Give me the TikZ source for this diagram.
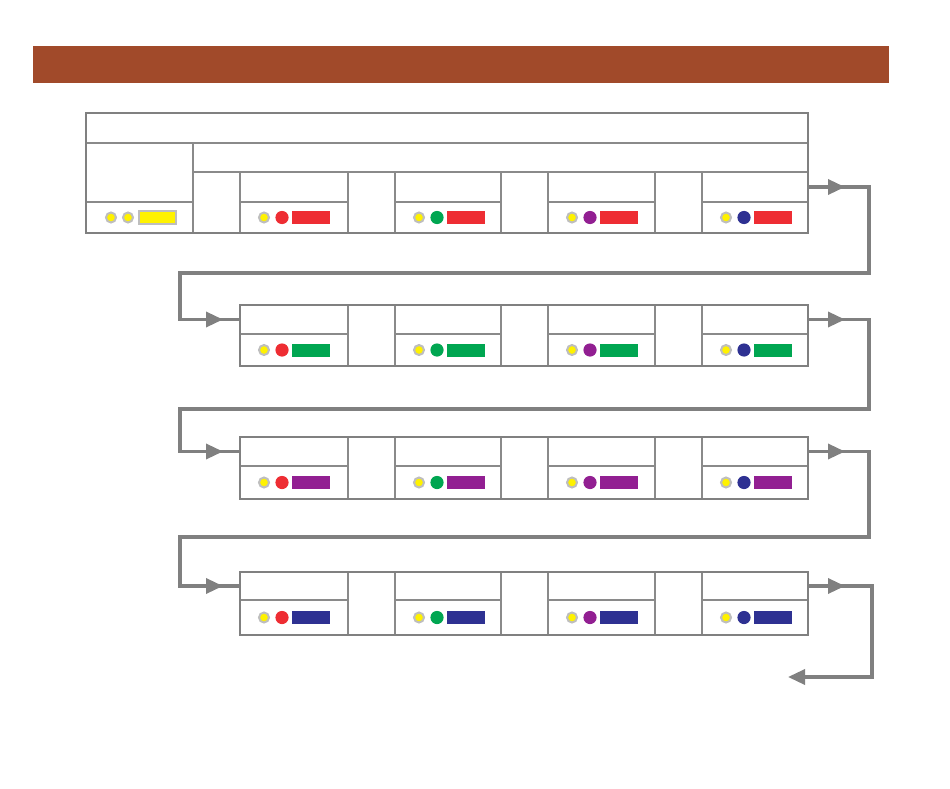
\documentclass[tikz,border=0pt]{standalone}
\usetikzlibrary{arrows.meta}
\definecolor{hdr}{RGB}{161,74,42}
\definecolor{framegray}{RGB}{128,128,128}
\definecolor{gridgray}{RGB}{138,138,138}
\definecolor{dotred}{RGB}{238,45,51}
\definecolor{dotgreen}{RGB}{0,166,81}
\definecolor{dotpurple}{RGB}{146,31,146}
\definecolor{dotnavy}{RGB}{46,49,146}
\definecolor{dotyellow}{RGB}{255,242,0}
\definecolor{ringgray}{RGB}{190,190,190}
\begin{document}
\begin{tikzpicture}[x=1pt,y=-1pt,
  cellbox/.style={draw=gridgray,line width=1.6pt,rectangle,inner sep=0pt,outer sep=0pt,anchor=north west},
  framebox/.style={draw=framegray,line width=2.8pt,rectangle,inner sep=0pt,outer sep=0pt,anchor=north west},
  conn/.style={draw=framegray,line width=3.4pt,line join=miter},
  tip/.style={-{Triangle[length=17pt,width=15pt]}},
  ydot/.style={fill=dotyellow,draw=ringgray,line width=2pt},
]
\useasboundingbox (0,0) rectangle (950,789);
% header bar
\fill[hdr] (33,46) rectangle (889,83);

% ---- row 1 extra cells
\node[cellbox,minimum width=722pt,minimum height=30pt] (title) at (86,113) {};
\node[cellbox,minimum width=107pt,minimum height=59pt] (lefttop) at (86,143) {};
\node[cellbox,minimum width=107pt,minimum height=31pt] (leftbot) at (86,202) {};
\node[cellbox,minimum width=615pt,minimum height=29pt] (span) at (193,143) {};
\node[cellbox,minimum width=47pt,minimum height=61pt] (gap0) at (193,172) {};
\filldraw[ydot] (111,217.5) circle (5pt);
\filldraw[ydot] (128,217.5) circle (5pt);
\filldraw[ydot] (139,211) rectangle (176,224);

% ---- cells of the four rows
\foreach \ri/\T/\M/\B/\col in {1/172/202/233/dotred,2/305/334/366/dotgreen,3/437/466/499/dotpurple,4/572/600/635/dotnavy}{
  \pgfmathsetmacro\hta{\M-\T}
  \pgfmathsetmacro\htb{\B-\M}
  \pgfmathsetmacro\yc{(\M+\B)/2}
  \foreach \ci/\x/\w/\cc in {1/240/108/dotred,2/395/106/dotgreen,3/548/107/dotpurple,4/702/106/dotnavy}{
    \node[cellbox,minimum width=\w pt,minimum height=\hta pt] (c\ri\ci t) at (\x,\T) {};
    \node[cellbox,minimum width=\w pt,minimum height=\htb pt] (c\ri\ci b) at (\x,\M) {};
    \filldraw[ydot] (\x+24,\yc) circle (5pt);
    \fill[\cc] (\x+42,\yc) circle (6.6pt);
    \fill[\col] (\x+52,\yc-6.5) rectangle (\x+90,\yc+6.5);
  }
}

% ---- frames
\node[framebox,minimum width=722pt,minimum height=120pt] (r1) at (86,113) {};
\node[framebox,minimum width=568pt,minimum height=61pt] (r2) at (240,305) {};
\node[framebox,minimum width=568pt,minimum height=62pt] (r3) at (240,437) {};
\node[framebox,minimum width=568pt,minimum height=63pt] (r4) at (240,572) {};

% ---- turn points
\coordinate (t1a) at (869,273); \coordinate (t1b) at (180,273);
\coordinate (t2a) at (869,409); \coordinate (t2b) at (180,409);
\coordinate (t3a) at (869,537); \coordinate (t3b) at (180,537);
\coordinate (t4a) at (872,677); \coordinate (endpt) at (788,677);

% ---- connectors
\draw[conn] (c14t.east) -| (t1a) -- (t1b) |- (c21t.west);
\draw[conn] (c24t.east) -| (t2a) -- (t2b) |- (c31t.west);
\draw[conn] (c34t.east) -| (t3a) -- (t3b) |- (c41t.west);
\draw[conn,tip] (c44t.east) -| (t4a) -- (endpt);

% ---- mid-line arrowheads
\foreach \n in {c14t,c24t,c34t,c44t}{
  \draw[conn,tip] (\n.east) -- ([xshift=37pt]\n.east);
}
\foreach \n in {c21t,c31t,c41t}{
  \draw[conn,tip] ([xshift=-40pt]\n.west) -- ([xshift=-17pt]\n.west);
}
\end{tikzpicture}
\end{document}
